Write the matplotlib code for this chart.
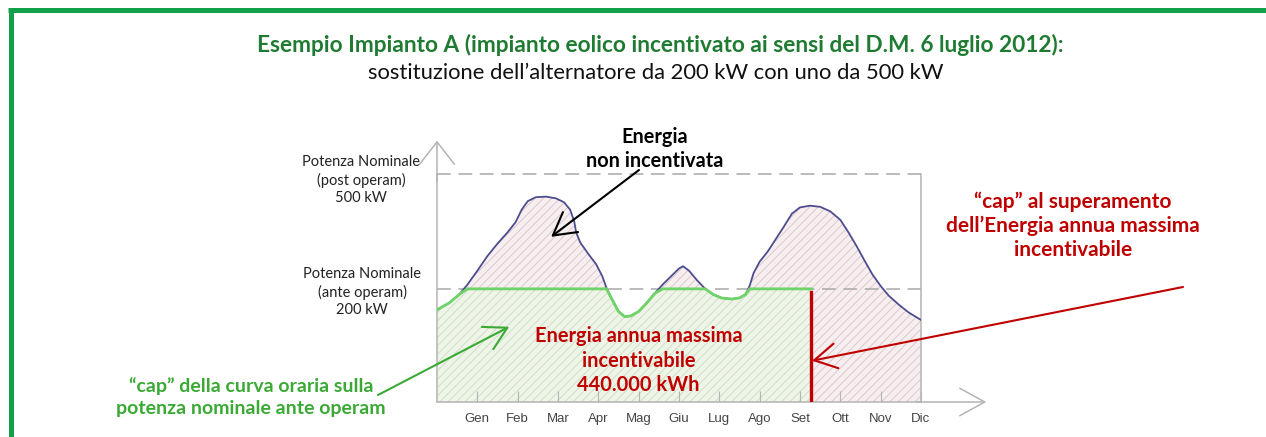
import matplotlib
matplotlib.use("Agg")
import matplotlib.pyplot as plt
import numpy as np
from matplotlib.lines import Line2D

# -----------------------
# Data (schematic power curve, kW-like units)
# -----------------------
months = ["Gen", "Feb", "Mar", "Apr", "Mag", "Giu", "Lug", "Ago", "Set", "Ott", "Nov", "Dic"]
month_pos = [1, 2, 3, 4, 5, 6, 7, 8, 9, 10, 11, 12]

curve_x = [0.0, 0.3, 0.55, 0.75, 1.0, 1.25, 1.5, 1.75, 1.95, 2.1, 2.25, 2.45, 2.7,
           2.95, 3.15, 3.3, 3.4, 3.45, 3.55, 3.75, 3.95, 4.1, 4.2, 4.35, 4.5, 4.65,
           4.8, 5.0, 5.2, 5.4, 5.6, 5.8, 6.0, 6.1, 6.25, 6.45, 6.65, 6.85, 7.05,
           7.3, 7.5, 7.65, 7.75, 7.85, 8.0, 8.2, 8.4, 8.6, 8.8, 9.0, 9.25, 9.5,
           9.75, 10.0, 10.2, 10.4, 10.6, 10.8, 11.0, 11.2, 11.45, 11.7, 12.0]
curve_kw = [163, 175, 190, 207, 232, 258, 280, 300, 318, 340, 355, 362, 363,
            360, 353, 340, 320, 300, 282, 262, 243, 222, 202, 180, 160, 151,
            152, 160, 175, 192, 208, 222, 236, 240, 232, 215, 200, 190, 184,
            182, 184, 190, 205, 228, 248, 266, 288, 310, 333, 344, 347, 345,
            337, 322, 300, 276, 250, 225, 205, 188, 172, 158, 145]

p_ante = 200          # potenza nominale ante operam
p_post_line = 403     # position of the 500 kW line on the schematic scale
cap_month = 9.28      # where the annual energy cap is reached

# -----------------------
# Colours
# -----------------------
green_dark = "#1f7a32"
green_txt = "#3aaa35"
red = "#c00000"
grey = "#b4b4b4"

W, H = 1266, 437
fig = plt.figure(figsize=(W / 100, H / 100), dpi=100)


def px(x, y):
    return x / W, 1 - y / H


# green frame
fig.add_artist(Line2D([8 / W, 1], [1 - 10 / H, 1 - 10 / H], transform=fig.transFigure,
                      color="#12a04a", lw=3.6, solid_capstyle="butt"))
fig.add_artist(Line2D([10.5 / W, 10.5 / W], [0, 1 - 8 / H], transform=fig.transFigure,
                      color="#12a04a", lw=3.6, solid_capstyle="butt"))

# titles
font = "Lato"
fig.text(*px(660, 45), "Esempio Impianto A (impianto eolico incentivato ai sensi del D.M. 6 luglio 2012):",
         ha="center", va="center", fontsize=16.3, fontweight="bold", color=green_dark, family=font)
fig.text(*px(656, 73), "sostituzione dell\u2019alternatore da 200 kW con uno da 500 kW",
         ha="center", va="center", fontsize=15.8, color="#111111", family=font)

# -----------------------
# Chart axes
# -----------------------
ax = fig.add_axes([437 / W, 1 - 402 / H, (921 - 437) / W, (402 - 174) / H])
ax.set_xlim(0, 12)
ax.set_ylim(0, p_post_line)

x = np.array(curve_x)
y = np.array(curve_kw)

plt.rcParams["hatch.linewidth"] = 0.6
# whole area under curve (non incentivata)
ax.fill_between(x, 0, y, facecolor="#f7eef0", edgecolor="#d9c3c7", hatch="////", lw=0)
# incentivised area: capped at p_ante up to cap_month
mask = x <= cap_month
xg = np.append(x[mask], cap_month)
yg = np.minimum(np.append(y[mask], np.interp(cap_month, x, y)), p_ante)
ax.fill_between(xg, 0, yg, facecolor="#eef4e8", edgecolor="#cadcc0", hatch="////", lw=0)

ax.axhline(p_ante, color="#a8a8a8", lw=1.1, ls=(0, (9, 5)), zorder=2)
ax.axhline(p_post_line, color="#a8a8a8", lw=1.1, ls=(0, (9, 5)), zorder=2, clip_on=False)

ax.plot(x, y, color="#4d4d8f", lw=1.3, zorder=3)
ax.plot(xg, yg, color="#6fd36a", lw=2.0, zorder=4)
ax.plot([cap_month, cap_month], [0, p_ante - 5], color=red, lw=2.4, zorder=5)

ax.spines["top"].set_visible(False)
for s in ["left", "bottom", "right"]:
    ax.spines[s].set_color(grey)
    ax.spines[s].set_linewidth(1.1)

ax.set_xticks(month_pos)
ax.set_xticklabels(months, fontsize=9.5, color="#444444", family="Liberation Sans")
ax.tick_params(axis="x", direction="in", length=8, color=grey, pad=8)
ax.set_yticks([])
ax.patch.set_alpha(0)

# axis arrows
ax.annotate("", xy=(13.62, 0), xytext=(11.9, 0), xycoords="data",
            arrowprops=dict(arrowstyle="->,head_length=1.0,head_width=0.55", color=grey, lw=1.1,
                            mutation_scale=18, shrinkA=0, shrinkB=0), annotation_clip=False)
ax.annotate("", xy=(0, 462), xytext=(0, 390), xycoords="data",
            arrowprops=dict(arrowstyle="->,head_length=0.9,head_width=0.7", color=grey, lw=1.1,
                            mutation_scale=18, shrinkA=0, shrinkB=0), annotation_clip=False)

# left labels
fig.text(*px(361, 180), "Potenza Nominale\n(post operam)\n500 kW", ha="center", va="center",
         fontsize=10.5, color="#222222", family=font, linespacing=1.3)
fig.text(*px(362, 292), "Potenza Nominale\n(ante operam)\n200 kW", ha="center", va="center",
         fontsize=10.5, color="#222222", family=font, linespacing=1.3)

# annotations
fig.text(*px(655, 149), "Energia\nnon incentivata", ha="center", va="center",
         fontsize=14.3, fontweight="bold", color="black", family=font, linespacing=1.2)
ax.annotate("", xy=(2.83, 292), xycoords="data", xytext=px(639, 170), textcoords="figure fraction",
            arrowprops=dict(arrowstyle="->,head_length=0.8,head_width=0.45", color="black", lw=1.5,
                            mutation_scale=20, shrinkA=0, shrinkB=0))

ax.text(5.0, 73, "Energia annua massima\nincentivabile\n440.000 kWh", ha="center", va="center",
        fontsize=14.4, fontweight="bold", color=red, family=font, linespacing=1.3, zorder=6)

fig.text(*px(1073, 226), "\u201ccap\u201d al superamento\ndell\u2019Energia annua massima\nincentivabile",
         ha="center", va="center", fontsize=15, fontweight="bold", color=red, family=font, linespacing=1.25)
ax.annotate("", xy=(9.3, 73), xycoords="data", xytext=px(1183, 287), textcoords="figure fraction",
            arrowprops=dict(arrowstyle="->,head_length=0.8,head_width=0.45", color=red, lw=1.5,
                            mutation_scale=20, shrinkA=0, shrinkB=0))

fig.text(*px(251, 397), "\u201ccap\u201d della curva oraria sulla\npotenza nominale ante operam",
         ha="center", va="center", fontsize=14, fontweight="bold", color=green_txt, family=font, linespacing=1.3)
ax.annotate("", xy=(1.79, 133), xycoords="data", xytext=px(378, 395), textcoords="figure fraction",
            arrowprops=dict(arrowstyle="->,head_length=0.8,head_width=0.45", color=green_txt, lw=1.5,
                            mutation_scale=20, shrinkA=0, shrinkB=0), annotation_clip=False)

fig.savefig("out.png", dpi=100)
